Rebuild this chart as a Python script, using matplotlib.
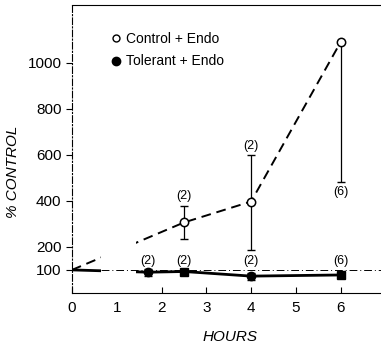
import matplotlib
matplotlib.use("Agg")
import matplotlib.pyplot as plt
from matplotlib.patches import Rectangle

plt.rcParams['font.family'] = ['Liberation Sans', 'DejaVu Sans']

# control + endo (open circles, dashed)
ctrl_x = [0, 2.5, 4, 6]
ctrl_y = [100, 306, 397, 1090]
ctrl_lo = [0, 71, 210, 610]
ctrl_hi = [0, 72, 200, 0]
ctrl_n = ['', '(2)', '(2)', '(6)']

# tolerant + endo (filled, solid)
tol_x = [0, 1.7, 2.5, 4, 6]
tol_y = [100, 90, 93, 73, 78]
tol_err = [0, 15, 10, 15, 10]
tol_n = ['', '(2)', '(2)', '(2)', '(6)']
tol_mark = [None, 'o', 's', 'o', 's']

fig = plt.figure(figsize=(3.81, 3.43), dpi=100)
ax = fig.add_axes([0.189, 0.146, 0.811, 0.839])

# lines
ax.plot(ctrl_x, ctrl_y, color='black', linestyle=(0, (5, 3)), lw=1.4, zorder=2)
ax.plot(tol_x, tol_y, color='black', linestyle='-', lw=2, zorder=2)

# break in the lines near the origin
ax.add_patch(Rectangle((0.64, 0), 0.78, 250, facecolor='white', edgecolor='none', zorder=2.5))

# reference line at 100%
ax.axhline(100, color='black', lw=0.7, linestyle=(0, (8, 3, 1, 3)), zorder=3)

# control error bars + points
ax.errorbar(ctrl_x[1:], ctrl_y[1:], yerr=[ctrl_lo[1:], ctrl_hi[1:]], fmt='none',
            ecolor='black', elinewidth=0.9, capsize=3, zorder=4)
ax.plot(ctrl_x[1:], ctrl_y[1:], 'o', mfc='white', mec='black', ms=6, mew=1.1, zorder=5)

# tolerant error bars + points
ax.errorbar(tol_x[1:], tol_y[1:], yerr=tol_err[1:], fmt='none',
            ecolor='black', elinewidth=0.9, capsize=3, zorder=4)
for x, y, m in zip(tol_x[1:], tol_y[1:], tol_mark[1:]):
    ax.plot(x, y, marker=m, color='black', ms=6, zorder=5)

# n labels
for x, y, lo, hi, n in zip(ctrl_x, ctrl_y, ctrl_lo, ctrl_hi, ctrl_n):
    if not n:
        continue
    if hi > 0:
        ax.text(x, y + hi + 15, n, ha='center', va='bottom', fontsize=9)
    else:
        ax.text(x, y - lo - 15, n, ha='center', va='top', fontsize=9)
for x, n in zip(tol_x, tol_n):
    if n:
        ax.text(x, 112, n, ha='center', va='bottom', fontsize=9)

# legend
ax.plot([], [], 'o', mfc='white', mec='black', ms=5, label='Control + Endo')
ax.plot([], [], 'o', color='black', ms=6, label='Tolerant + Endo')
ax.legend(loc='upper left', bbox_to_anchor=(0.08, 0.95), frameon=False,
          handletextpad=0.2, labelspacing=0.6, fontsize=10, handlelength=1)

ax.set_xlim(0, 6.9)
ax.set_ylim(0, 1250)
ax.set_xticks([0, 1, 2, 3, 4, 5, 6])
ax.set_yticks([100, 200, 400, 600, 800, 1000])
ax.tick_params(axis='x', direction='in', length=4, labelsize=11, pad=6)
ax.tick_params(axis='y', direction='out', length=4, labelsize=11)
ax.spines['right'].set_visible(False)
ax.spines['left'].set_linestyle((0, (6, 2, 1, 2)))
for s in ax.spines.values():
    s.set_linewidth(0.8)

ax.set_xlabel('HOURS', fontstyle='italic', fontsize=11)
ax.set_ylabel('% CONTROL', fontstyle='italic', fontsize=11)
ax.xaxis.set_label_coords(0.51, -0.128)
ax.yaxis.set_label_coords(-0.168, 0.42)

plt.savefig('out.png', dpi=100)
